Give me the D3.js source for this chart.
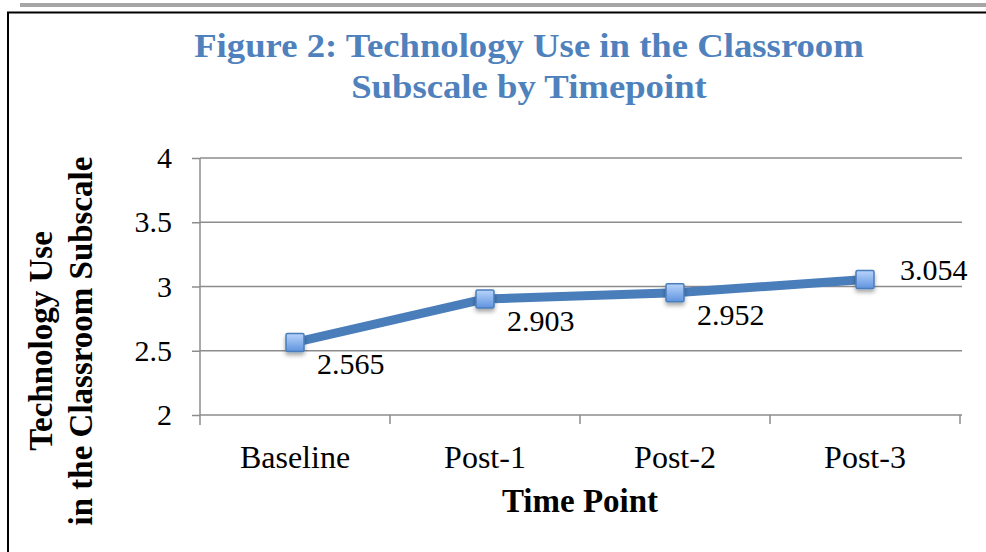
<!DOCTYPE html>
<html>
<head>
<meta charset="utf-8">
<script src="https://cdn.jsdelivr.net/npm/d3@7"></script>
<style>
  html, body { margin: 0; padding: 0; background: #fff; }
  svg { display: block; font-family: 'Liberation Serif', 'DejaVu Serif', serif; }
</style>
</head>
<body>
<div id="chart"></div>
<script>
const categories = ['Baseline', 'Post-1', 'Post-2', 'Post-3'];
const values = [2.565, 2.903, 2.952, 3.054];
const yTicks = [2, 2.5, 3, 3.5, 4];
const titleLines = ['Figure 2: Technology Use in the Classroom', 'Subscale by Timepoint'];
const yTitleLines = ['Technology Use', 'in the Classroom Subscale'];
const xTitle = 'Time Point';

const width = 986;
const height = 552;
const margin = { top: 158, right: 26, bottom: 137, left: 200 };
const blue = '#4a7ebb';
const grey = '#8c8c8c';

const svg = d3.select('#chart')
  .append('svg')
  .attr('width', width)
  .attr('height', height);

const defs = svg.append('defs');

const grad = defs.append('linearGradient')
  .attr('id', 'marker-fill')
  .attr('x1', 0).attr('y1', 0).attr('x2', 0).attr('y2', 1);
grad.append('stop').attr('offset', '0%').attr('stop-color', '#b9d4fb');
grad.append('stop').attr('offset', '100%').attr('stop-color', '#5f93df');

const shadow = defs.append('filter')
  .attr('id', 'shadow')
  .attr('x', '-50%').attr('y', '-50%').attr('width', '200%').attr('height', '200%');
shadow.append('feDropShadow')
  .attr('dx', 0).attr('dy', 3).attr('stdDeviation', 2)
  .attr('flood-color', '#000').attr('flood-opacity', 0.35);

// page bits around the figure
svg.append('rect')
  .attr('x', 20).attr('y', 3)
  .attr('width', width - 20).attr('height', 4)
  .attr('fill', '#a6a6a6');

svg.append('path')
  .attr('d', `M${width},12.5 H8 V${height}`)
  .attr('fill', 'none')
  .attr('stroke', '#000')
  .attr('stroke-width', 2);

const innerW = width - margin.left - margin.right;
const innerH = height - margin.top - margin.bottom;

const x = d3.scaleBand().domain(categories).range([0, innerW]);
const y = d3.scaleLinear().domain([2, 4]).range([innerH, 0]);

const plot = svg.append('g')
  .attr('transform', `translate(${margin.left},${margin.top})`);

// gridlines
plot.append('g')
  .selectAll('line')
  .data(yTicks)
  .join('line')
  .attr('x1', 0)
  .attr('x2', innerW + 2)
  .attr('y1', (d) => y(d))
  .attr('y2', (d) => y(d))
  .attr('stroke', grey)
  .attr('stroke-width', 1.5);

// y axis
const yAxis = plot.append('g')
  .call(d3.axisLeft(y).tickValues(yTicks).tickSize(8).tickPadding(20).tickFormat((d) => String(d)));
yAxis.select('.domain').attr('stroke', grey).attr('stroke-width', 1.5).attr('d', `M0,0V${innerH + 10}`);
yAxis.selectAll('.tick line').attr('stroke', grey).attr('stroke-width', 1.5);
yAxis.selectAll('.tick text')
  .attr('font-family', "'Liberation Serif', serif")
  .attr('font-size', 30)
  .attr('fill', '#000');

// x axis
const xAxis = plot.append('g')
  .attr('transform', `translate(0,${innerH})`)
  .call(d3.axisBottom(x).tickSize(0).tickPadding(30));
xAxis.select('.domain').remove();
xAxis.selectAll('.tick text')
  .attr('font-family', "'Liberation Serif', serif")
  .attr('font-size', 32)
  .attr('fill', '#000');

plot.append('g')
  .selectAll('line')
  .data(d3.range(1, categories.length + 1))
  .join('line')
  .attr('x1', (i) => i * x.step())
  .attr('x2', (i) => i * x.step())
  .attr('y1', innerH)
  .attr('y2', innerH + 9)
  .attr('stroke', grey)
  .attr('stroke-width', 1.5);

// line
const cx = (i) => x(categories[i]) + x.bandwidth() / 2;
const line = d3.line()
  .x((d, i) => cx(i))
  .y((d) => y(d));

plot.append('path')
  .datum(values)
  .attr('d', line)
  .attr('fill', 'none')
  .attr('stroke', blue)
  .attr('stroke-width', 9)
  .attr('stroke-linejoin', 'round');

// markers
const msize = 18;
plot.append('g')
  .selectAll('rect')
  .data(values)
  .join('rect')
  .attr('x', (d, i) => cx(i) - msize / 2)
  .attr('y', (d) => y(d) - msize / 2)
  .attr('width', msize)
  .attr('height', msize)
  .attr('rx', 1.5)
  .attr('fill', 'url(#marker-fill)')
  .attr('stroke', blue)
  .attr('stroke-width', 1.5)
  .attr('filter', 'url(#shadow)');

// data labels (last one sits right of its point, the rest below-right)
const last = values.length - 1;
plot.append('g')
  .selectAll('text')
  .data(values)
  .join('text')
  .attr('x', (d, i) => cx(i) + (i === last ? 35 : 22))
  .attr('y', (d, i) => y(d) + (i === last ? 0 : 32))
  .attr('font-size', 30)
  .attr('fill', '#000')
  .text((d) => d.toFixed(3));

// title
svg.append('text')
  .attr('transform', 'translate(529,0) scale(1.08,1)')
  .attr('y', 57)
  .attr('text-anchor', 'middle')
  .attr('font-weight', 'bold')
  .attr('font-size', 34)
  .attr('fill', '#4f81bd')
  .selectAll('tspan')
  .data(titleLines)
  .join('tspan')
  .attr('x', 0)
  .attr('dy', (d, i) => (i === 0 ? 0 : 41))
  .text((d) => d);

// y axis title
svg.append('text')
  .attr('transform', 'translate(52,341) rotate(-90)')
  .attr('text-anchor', 'middle')
  .attr('font-weight', 'bold')
  .attr('font-size', 33)
  .attr('fill', '#000')
  .selectAll('tspan')
  .data(yTitleLines)
  .join('tspan')
  .attr('x', 0)
  .attr('dy', (d, i) => (i === 0 ? 0 : 40))
  .text((d) => d);

// x axis title
svg.append('text')
  .attr('x', margin.left + innerW / 2)
  .attr('y', 512)
  .attr('text-anchor', 'middle')
  .attr('font-weight', 'bold')
  .attr('font-size', 33)
  .attr('fill', '#000')
  .text(xTitle);
</script>
</body>
</html>
